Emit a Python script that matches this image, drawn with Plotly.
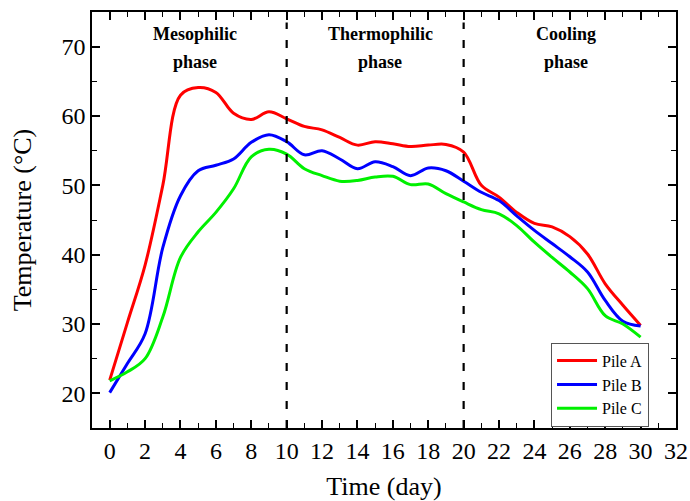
import plotly.graph_objects as go

days = list(range(0, 31))
pile_a = [21.9, 30.2, 38.5, 50.0, 63.0, 64.1, 63.4, 60.4, 59.5, 60.6,
          59.6, 58.5, 58.0, 56.9, 55.8, 56.3, 56.0, 55.6, 55.8, 55.9,
          54.8, 50.0, 48.3, 46.1, 44.5, 44.0, 42.6, 40.1, 35.8, 32.7, 29.8]
pile_b = [20.1, 24.3, 28.6, 41.0, 48.5, 52.1, 52.9, 53.8, 56.2, 57.3,
          56.3, 54.4, 55.0, 53.8, 52.4, 53.4, 52.7, 51.4, 52.5, 52.1,
          50.6, 49.0, 47.8, 45.6, 43.5, 41.6, 39.7, 37.5, 33.4, 30.4, 29.7]
pile_c = [21.8, 23.1, 25.0, 31.0, 39.6, 43.3, 46.1, 49.5, 54.1, 55.2,
          54.5, 52.4, 51.4, 50.6, 50.7, 51.2, 51.3, 50.1, 50.2, 48.8,
          47.6, 46.5, 45.9, 44.2, 41.8, 39.6, 37.5, 35.1, 31.2, 30.0, 28.1]
series = [("Pile A", pile_a, "#ff0000"), ("Pile B", pile_b, "#0000ff"), ("Pile C", pile_c, "#00f000")]
phase_bounds = [10, 20]
phase_labels = [("Mesophilic", "phase", 4.8), ("Thermophilic", "phase", 15.3), ("Cooling", "phase", 25.8)]

font = "Liberation Serif, Times New Roman, serif"
fig = go.Figure()
for name, vals, col in series:
    fig.add_trace(go.Scatter(x=days, y=vals, name=name, mode="lines",
                             line=dict(color=col, width=3, shape="spline")))

for b in phase_bounds:
    fig.add_shape(type="line", x0=b, x1=b, xref="x", y0=0, y1=0.975, yref="paper",
                  line=dict(color="black", width=2.2, dash="8px,11px"))

for l1, l2, xv in phase_labels:
    for txt, yv in ((l1, 0.947), (l2, 0.88)):
        fig.add_annotation(x=xv, y=yv, xref="x", yref="paper", text="<b>" + txt + "</b>",
                           showarrow=False, yanchor="middle", align="center",
                           font=dict(family=font, size=18, color="black"))

axis_common = dict(showline=True, linecolor="black", linewidth=1.5, mirror="ticks",
                   ticks="inside", ticklen=8, tickwidth=1.5, tickcolor="black",
                   showgrid=False, zeroline=False, automargin=False,
                   tickfont=dict(family=font, size=24, color="black"))
fig.update_xaxes(range=[-1, 32], dtick=2, tick0=0,
                 minor=dict(dtick=1, ticks="inside", ticklen=5, tickcolor="black", tickwidth=1.2),
                 title=dict(text="Time (day)", font=dict(family=font, size=26, color="black"), standoff=18),
                 **axis_common)
fig.update_yaxes(range=[15, 75], dtick=10, tick0=20,
                 minor=dict(dtick=5, ticks="inside", ticklen=5, tickcolor="black", tickwidth=1.2),
                 title=dict(text="Temperature (°C)", font=dict(family=font, size=26, color="black"), standoff=22),
                 **axis_common)

fig.update_layout(width=690, height=501, plot_bgcolor="white", paper_bgcolor="white",
                  margin=dict(l=92, r=14, t=12, b=73),
                  legend=dict(x=0.786, y=0.205, xanchor="left", yanchor="top",
                              bordercolor="#555555", borderwidth=1, bgcolor="white",
                              font=dict(family=font, size=16, color="black"),
                              tracegroupgap=0, itemwidth=40))
# remove the browser's default 8px body margin so the figure fills the window exactly
fig.write_html("out.html", config={"displayModeBar": False},
               post_script="document.body.style.margin='0';document.body.style.overflow='hidden';")
